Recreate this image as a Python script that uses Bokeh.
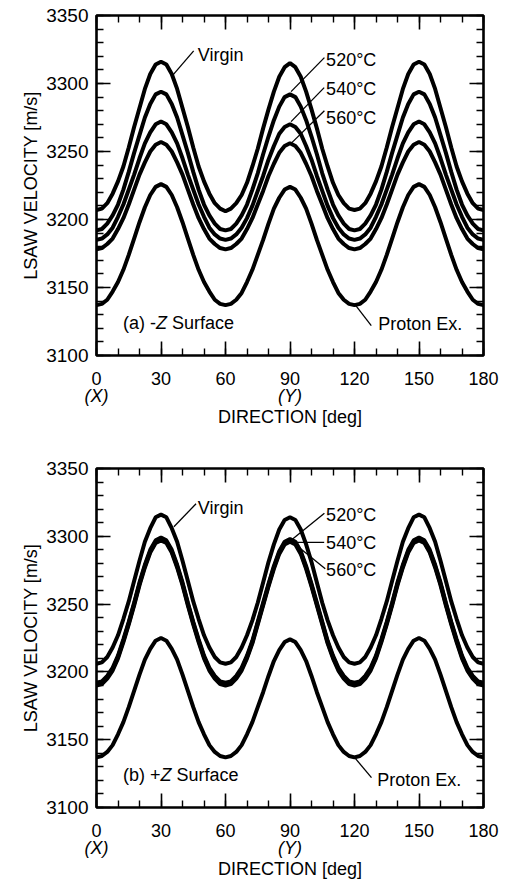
from bokeh.plotting import figure
from bokeh.layouts import column
from bokeh.models import Range1d, LinearAxis, SingleIntervalTicker, FixedTicker, Label
from bokeh.embed import file_html
from bokeh.resources import INLINE

# ---------------- data ----------------
direction = [i * 2.5 for i in range(73)]          # 0 ... 180 deg
x_ticks = [0, 30, 60, 90, 120, 150, 180]
y_ticks = [3100, 3150, 3200, 3250, 3300, 3350]
axis_names = {0: "(X)", 90: "(Y)"}

# (a) -Z surface
a_virgin = [3207, 3208, 3212, 3219, 3228, 3239, 3253, 3268, 3282, 3296, 3307, 3314, 3316,
            3314, 3307, 3296, 3282, 3268, 3253, 3239, 3228, 3219, 3212, 3208, 3206,
            3208, 3212, 3218, 3227, 3239, 3252, 3267, 3281, 3294, 3305, 3312, 3315,
            3312, 3305, 3294, 3281, 3267, 3252, 3239, 3227, 3218, 3212, 3208, 3207,
            3208, 3212, 3219, 3228, 3239, 3253, 3268, 3282, 3296, 3307, 3314, 3316,
            3314, 3307, 3296, 3282, 3268, 3253, 3239, 3228, 3219, 3212, 3208, 3207]
a_520 = [3192, 3193, 3197, 3203, 3211, 3222, 3235, 3249, 3262, 3275, 3285, 3292, 3294,
         3292, 3285, 3275, 3262, 3249, 3235, 3222, 3211, 3203, 3197, 3193, 3192,
         3193, 3197, 3203, 3211, 3222, 3234, 3248, 3261, 3273, 3283, 3290, 3292,
         3290, 3283, 3273, 3261, 3248, 3234, 3222, 3211, 3203, 3197, 3193, 3192,
         3193, 3197, 3203, 3211, 3222, 3235, 3249, 3262, 3275, 3285, 3292, 3294,
         3292, 3285, 3275, 3262, 3249, 3235, 3222, 3211, 3203, 3197, 3193, 3192]
a_540 = [3185, 3186, 3189, 3194, 3202, 3211, 3222, 3233, 3245, 3256, 3264, 3270, 3272,
         3270, 3264, 3256, 3245, 3233, 3222, 3211, 3202, 3194, 3189, 3186, 3185,
         3186, 3189, 3194, 3201, 3210, 3221, 3232, 3244, 3254, 3263, 3268, 3270,
         3268, 3263, 3254, 3244, 3232, 3221, 3210, 3201, 3194, 3189, 3186, 3185,
         3186, 3189, 3194, 3202, 3211, 3222, 3233, 3245, 3256, 3264, 3270, 3272,
         3270, 3264, 3256, 3245, 3233, 3222, 3211, 3202, 3194, 3189, 3186, 3185]
a_560 = [3178, 3179, 3182, 3186, 3193, 3201, 3211, 3222, 3233, 3242, 3250, 3255, 3257,
         3255, 3250, 3242, 3233, 3222, 3211, 3201, 3193, 3186, 3182, 3179, 3178,
         3179, 3182, 3186, 3193, 3201, 3211, 3221, 3232, 3241, 3249, 3254, 3256,
         3254, 3249, 3241, 3232, 3221, 3211, 3201, 3193, 3186, 3182, 3179, 3178,
         3179, 3182, 3186, 3193, 3201, 3211, 3222, 3233, 3242, 3250, 3255, 3257,
         3255, 3250, 3242, 3233, 3222, 3211, 3201, 3193, 3186, 3182, 3179, 3178]
a_proton = [3137, 3138, 3141, 3147, 3154, 3163, 3174, 3186, 3198, 3209, 3218, 3224, 3226,
            3224, 3218, 3209, 3198, 3186, 3174, 3163, 3154, 3147, 3141, 3138, 3137,
            3138, 3141, 3146, 3154, 3163, 3174, 3185, 3197, 3208, 3216, 3222, 3224,
            3222, 3216, 3208, 3197, 3185, 3174, 3163, 3154, 3146, 3141, 3138, 3137,
            3138, 3141, 3147, 3154, 3163, 3174, 3186, 3198, 3209, 3218, 3224, 3226,
            3224, 3218, 3209, 3198, 3186, 3174, 3163, 3154, 3147, 3141, 3138, 3137]

# (b) +Z surface
b_virgin = [3206, 3207, 3211, 3218, 3227, 3239, 3252, 3267, 3282, 3296, 3306, 3314, 3316,
            3314, 3306, 3296, 3282, 3267, 3252, 3239, 3227, 3218, 3211, 3207, 3206,
            3207, 3211, 3218, 3227, 3238, 3251, 3266, 3281, 3294, 3305, 3312, 3314,
            3312, 3305, 3294, 3281, 3266, 3251, 3238, 3227, 3218, 3211, 3207, 3206,
            3207, 3211, 3218, 3227, 3239, 3252, 3267, 3282, 3296, 3306, 3314, 3316,
            3314, 3306, 3296, 3282, 3267, 3252, 3239, 3227, 3218, 3211, 3207, 3206]
b_520 = [3192, 3193, 3197, 3203, 3212, 3224, 3237, 3251, 3266, 3279, 3290, 3297, 3299,
         3297, 3290, 3279, 3266, 3251, 3237, 3224, 3212, 3203, 3197, 3193, 3192,
         3193, 3197, 3203, 3212, 3223, 3237, 3251, 3265, 3278, 3289, 3296, 3298,
         3296, 3289, 3278, 3265, 3251, 3237, 3223, 3212, 3203, 3197, 3193, 3192,
         3193, 3197, 3203, 3212, 3224, 3237, 3251, 3266, 3279, 3290, 3297, 3299,
         3297, 3290, 3279, 3266, 3251, 3237, 3224, 3212, 3203, 3197, 3193, 3192]
b_540 = [3191, 3192, 3196, 3202, 3211, 3223, 3236, 3250, 3265, 3278, 3289, 3296, 3298,
         3296, 3289, 3278, 3265, 3250, 3236, 3223, 3211, 3202, 3196, 3192, 3191,
         3192, 3196, 3202, 3211, 3222, 3236, 3250, 3264, 3277, 3288, 3295, 3297,
         3295, 3288, 3277, 3264, 3250, 3236, 3222, 3211, 3202, 3196, 3192, 3191,
         3192, 3196, 3202, 3211, 3223, 3236, 3250, 3265, 3278, 3289, 3296, 3298,
         3296, 3289, 3278, 3265, 3250, 3236, 3223, 3211, 3202, 3196, 3192, 3191]
b_560 = [3190, 3191, 3195, 3201, 3210, 3222, 3235, 3249, 3264, 3277, 3288, 3295, 3297,
         3295, 3288, 3277, 3264, 3249, 3235, 3222, 3210, 3201, 3195, 3191, 3190,
         3191, 3195, 3201, 3210, 3221, 3235, 3249, 3263, 3276, 3287, 3294, 3296,
         3294, 3287, 3276, 3263, 3249, 3235, 3221, 3210, 3201, 3195, 3191, 3190,
         3191, 3195, 3201, 3210, 3222, 3235, 3249, 3264, 3277, 3288, 3295, 3297,
         3295, 3288, 3277, 3264, 3249, 3235, 3222, 3210, 3201, 3195, 3191, 3190]
b_proton = [3137, 3138, 3141, 3146, 3154, 3163, 3174, 3186, 3198, 3209, 3217, 3223, 3225,
            3223, 3217, 3209, 3198, 3186, 3174, 3163, 3154, 3146, 3141, 3138, 3137,
            3138, 3141, 3146, 3154, 3163, 3174, 3185, 3197, 3208, 3216, 3222, 3224,
            3222, 3216, 3208, 3197, 3185, 3174, 3163, 3154, 3146, 3141, 3138, 3137,
            3138, 3141, 3146, 3154, 3163, 3174, 3186, 3198, 3209, 3217, 3223, 3225,
            3223, 3217, 3209, 3198, 3186, 3174, 3163, 3154, 3146, 3141, 3138, 3137]

series_labels = ["Virgin", "520\u00b0C", "540\u00b0C", "560\u00b0C", "Proton Ex."]

FONT = "Liberation Sans"
LABEL_SIZE = "18px"


def style_ticks(ax):
    ax.major_tick_in = 14
    ax.major_tick_out = 0
    ax.minor_tick_in = 7
    ax.minor_tick_out = 0
    ax.major_tick_line_color = "black"
    ax.minor_tick_line_color = "black"
    ax.major_tick_line_width = 1.6
    ax.minor_tick_line_width = 1.4
    ax.axis_line_color = None
    ax.major_label_text_font = FONT
    ax.major_label_text_color = "black"


def hidden_axis(ticker):
    ax = LinearAxis(ticker=ticker)
    style_ticks(ax)
    ax.major_label_text_color = None
    ax.major_label_text_font_size = "1px"
    ax.major_label_standoff = 0
    return ax


def make_panel(height, border_top, border_bottom, curves, surf_prefix, surf_w,
               leaders, label_pos):
    p = figure(width=505, height=height,
               x_range=Range1d(0, 180), y_range=Range1d(3100, 3350),
               output_backend="svg", toolbar_location=None,
               min_border_left=96, min_border_right=22,
               min_border_top=border_top, min_border_bottom=border_bottom)
    p.grid.visible = False
    p.outline_line_color = "black"
    p.outline_line_width = 2.6
    p.background_fill_color = "white"
    p.border_fill_color = "white"

    p.xaxis.ticker = SingleIntervalTicker(interval=30, num_minor_ticks=3)
    p.yaxis.ticker = SingleIntervalTicker(interval=50, num_minor_ticks=5)
    for ax in p.xaxis:
        style_ticks(ax)
        ax.major_label_text_font_size = "18px"
        ax.major_label_standoff = 16
    for ax in p.yaxis:
        style_ticks(ax)
        ax.major_label_text_font_size = "19px"
        ax.major_label_standoff = 8
        ax.axis_label = "LSAW VELOCITY [m/s]"
        ax.axis_label_standoff = 2
        ax.axis_label_text_font = FONT
        ax.axis_label_text_font_size = "18px"
        ax.axis_label_text_font_style = "normal"
        ax.axis_label_text_color = "black"

    # second bottom axis: crystal axis names (X), (Y) and the axis title
    names = LinearAxis(ticker=FixedTicker(ticks=list(axis_names.keys())))
    names.major_label_overrides = dict(axis_names)
    names.major_tick_in = 0
    names.major_tick_out = 0
    names.minor_tick_in = 0
    names.minor_tick_out = 0
    names.axis_line_color = None
    names.major_label_standoff = -2
    names.major_label_text_font = FONT
    names.major_label_text_font_size = "18px"
    names.major_label_text_font_style = "italic"
    names.major_label_text_color = "black"
    names.axis_label = "DIRECTION [deg]"
    names.axis_label_standoff = -2
    names.axis_label_text_font = FONT
    names.axis_label_text_font_size = "18px"
    names.axis_label_text_font_style = "normal"
    names.axis_label_text_color = "black"
    p.add_layout(names, "below")

    p.add_layout(hidden_axis(SingleIntervalTicker(interval=30, num_minor_ticks=3)), "above")
    p.add_layout(hidden_axis(SingleIntervalTicker(interval=50, num_minor_ticks=5)), "right")

    for ys in curves:
        p.line(direction, ys, line_color="black", line_width=4)

    # leader lines
    p.segment(x0=[l[0] for l in leaders], y0=[l[1] for l in leaders],
              x1=[l[2] for l in leaders], y1=[l[3] for l in leaders],
              line_color="black", line_width=1.3)

    for txt, (lx, ly) in zip(series_labels, label_pos):
        p.add_layout(Label(x=lx, y=ly, text=txt, text_font=FONT,
                           text_font_size=LABEL_SIZE, text_align="left",
                           text_baseline="middle", text_color="black"))

    # surface caption with italic Z
    sx, sy = 12.3, 3124
    p.add_layout(Label(x=sx, y=sy, text=surf_prefix, text_font=FONT, text_font_size=LABEL_SIZE,
                       text_align="left", text_baseline="middle", text_color="black"))
    p.add_layout(Label(x=sx, y=sy, x_offset=surf_w, text="Z", text_font=FONT,
                       text_font_size=LABEL_SIZE, text_font_style="italic",
                       text_align="left", text_baseline="middle", text_color="black"))
    p.add_layout(Label(x=sx, y=sy, x_offset=surf_w + 16, text="Surface", text_font=FONT,
                       text_font_size=LABEL_SIZE, text_align="left", text_baseline="middle",
                       text_color="black"))
    return p


leaders_a = [(35.4, 3306, 45.2, 3324),
             (90.5, 3294, 106.0, 3319),
             (90.5, 3272, 105.9, 3297),
             (90.5, 3256, 106.0, 3280),
             (120.0, 3138, 127.8, 3122)]
labels_a = [(47.1, 3321), (106.8, 3317), (106.8, 3296), (106.8, 3275), (131.0, 3123)]

leaders_b = [(36.0, 3307, 46.3, 3324),
             (90.5, 3297, 106.0, 3317),
             (92.0, 3295.5, 105.9, 3295.5),
             (92.5, 3294, 106.4, 3276),
             (120.5, 3136, 127.9, 3122)]
labels_b = [(47.1, 3321), (106.8, 3316), (106.8, 3295), (106.8, 3275), (130.6, 3120)]

pa = make_panel(452, 15, 97, [a_virgin, a_520, a_540, a_560, a_proton],
                "(a) -", 33, leaders_a, labels_a)
pb = make_panel(436, 16, 81, [b_virgin, b_520, b_540, b_560, b_proton],
                "(b) +", 37.5, leaders_b, labels_b)

layout = column(pa, pb, spacing=0)
open("out.html", "w").write(file_html(layout, INLINE))
